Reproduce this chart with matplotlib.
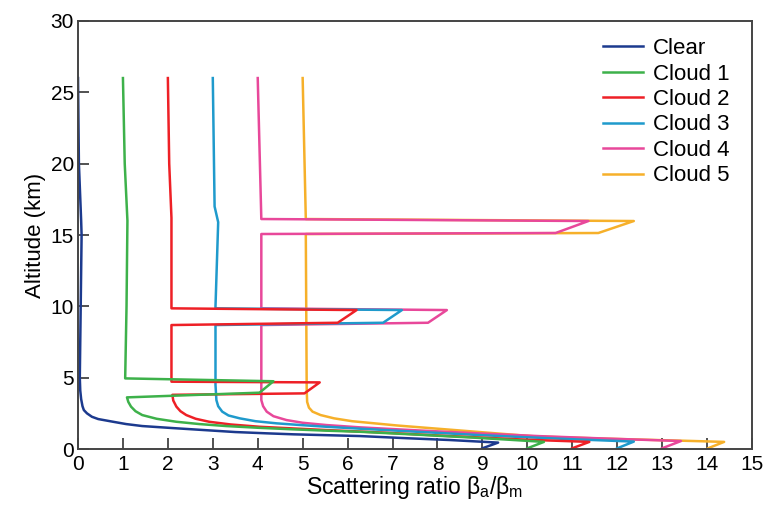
import matplotlib.pyplot as plt

plt.rcParams['font.family'] = ['Liberation Sans', 'DejaVu Sans']
plt.rcParams['mathtext.default'] = 'regular'

# profiles: scattering ratio (x) vs altitude in km (z)
clear_z = [26, 20, 16, 15, 10, 5, 4.1, 3.5, 3.0, 2.73, 2.5, 2.26, 2.1, 1.9, 1.75, 1.61, 1.47,
           1.33, 1.19, 1.1, 1.03, 0.91, 0.76, 0.63, 0.45, 0.05]
clear_x = [0.0, 0.02, 0.07, 0.08, 0.06, 0.04, 0.05, 0.07, 0.1, 0.13, 0.2, 0.31, 0.45, 0.8, 1.07, 1.43, 2.1,
           2.8, 3.5, 4.2, 4.8, 6.27, 7.3, 8.28, 9.35, 9.0]

cloud1_z = [26, 20, 16, 10, 4.95, 4.75, 3.95, 3.62, 3.3, 2.97, 2.65, 2.38, 2.12, 1.91, 1.75, 1.61,
            1.49, 1.38, 1.29, 1.21, 1.0, 0.8, 0.65, 0.5, 0.05]
cloud1_x = [1.0, 1.04, 1.1, 1.08, 1.05, 4.35, 4.04, 1.09, 1.12, 1.18, 1.28, 1.43, 1.75, 2.19, 2.7, 3.3,
            4.0, 4.78, 5.5, 6.27, 7.6, 8.8, 9.6, 10.37, 10.0]

cloud2_z = [26, 20, 16.2, 15, 9.86, 9.74, 8.85, 8.69, 4.72, 4.67, 3.9, 3.8, 3.4, 2.97, 2.65, 2.38,
            2.12, 1.91, 1.72, 1.56, 1.44, 1.33, 1.15, 0.95, 0.8, 0.65, 0.5, 0.05]
cloud2_x = [2.0, 2.03, 2.08, 2.08, 2.08, 6.2, 5.78, 2.08, 2.08, 5.38, 5.04, 2.1, 2.12, 2.19, 2.28, 2.41,
            2.62, 2.92, 3.4, 4.04, 4.8, 5.53, 6.8, 8.0, 9.0, 10.0, 11.38, 11.0]

cloud3_z = [26, 17, 15.9, 10, 9.86, 9.74, 8.85, 8.69, 4.5, 3.43, 3.0, 2.62, 2.35, 2.15, 1.95, 1.8,
            1.67, 1.56, 1.42, 1.2, 1.0, 0.85, 0.7, 0.52, 0.05]
cloud3_x = [3.0, 3.04, 3.12, 3.06, 3.06, 7.21, 6.79, 3.06, 3.06, 3.08, 3.12, 3.21, 3.35, 3.6, 3.95, 4.42,
            5.0, 5.53, 6.3, 7.6, 8.8, 9.8, 10.9, 12.37, 12.0]

cloud4_z = [26, 16.12, 15.98, 15.14, 15.07, 9.86, 9.74, 8.85, 8.69, 3.43, 3.0, 2.62, 2.3, 2.03, 1.84,
            1.68, 1.52, 1.3, 1.1, 0.9, 0.75, 0.56, 0.05]
cloud4_x = [4.0, 4.08, 11.36, 10.63, 4.08, 4.08, 8.21, 7.79, 4.08, 4.08, 4.12, 4.2, 4.35, 4.64, 5.0,
            5.53, 6.27, 7.6, 8.9, 10.3, 11.6, 13.42, 13.0]

cloud5_z = [26, 16.12, 15.98, 15.14, 15.07, 4.13, 3.3, 2.9, 2.62, 2.38, 2.15, 1.95, 1.8, 1.65, 1.45,
            1.25, 1.05, 0.88, 0.72, 0.6, 0.5, 0.05]
cloud5_x = [5.0, 5.07, 12.37, 11.58, 5.07, 5.09, 5.1, 5.14, 5.22, 5.4, 5.7, 6.1, 6.6, 7.1, 7.9,
            8.7, 9.5, 10.2, 11.8, 13.26, 14.38, 14.02]

labels = ['Clear', 'Cloud 1', 'Cloud 2', 'Cloud 3', 'Cloud 4', 'Cloud 5']
colors = ['#1c3a8e', '#3db14a', '#ee2026', '#1f9acc', '#e8489a', '#f6b02a']
xs = [clear_x, cloud1_x, cloud2_x, cloud3_x, cloud4_x, cloud5_x]
zs = [clear_z, cloud1_z, cloud2_z, cloud3_z, cloud4_z, cloud5_z]

fig = plt.figure(figsize=(7.67, 5.12), dpi=100)
ax = fig.add_axes([0.1017, 0.123, 0.8787, 0.836])

lines = {}
# draw Cloud 5 first so Clear ends up on top
for i in reversed(range(len(labels))):
    ln, = ax.plot(xs[i], zs[i], color=colors[i], lw=1.8, label=labels[i])
    lines[i] = ln

ax.set_xlim(0, 15)
ax.set_ylim(0, 30)
ax.set_xticks(range(0, 16))
ax.set_yticks(range(0, 31, 5))
ax.tick_params(direction='in', length=8, width=1.2, labelsize=15, color='#333333', pad=4)
ax.tick_params(axis='y', pad=3)
for s in ax.spines.values():
    s.set_linewidth(1.4)
    s.set_color('#444444')

ax.set_xlabel(r'Scattering ratio $\beta_a/\beta_m$', fontsize=16.5, labelpad=0)
ax.set_ylabel('Altitude (km)', fontsize=16, labelpad=3)

ax.legend([lines[i] for i in range(len(labels))], labels, loc='upper left',
          bbox_to_anchor=(0.779, 0.96), frameon=False, fontsize=16,
          handlelength=1.8, handletextpad=0.45, labelspacing=0.2,
          borderpad=0, borderaxespad=0)

plt.savefig('out.png', dpi=100)
